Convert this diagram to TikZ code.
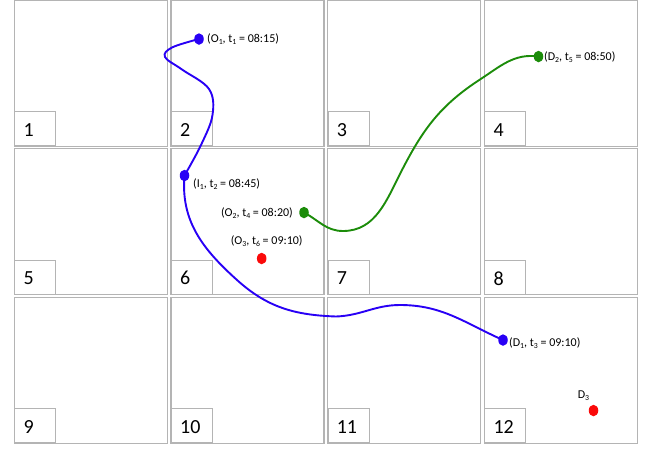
\documentclass[tikz,border=0pt]{standalone}
\usepackage{fontspec}
\setmainfont{Carlito}
\usetikzlibrary{backgrounds,shapes.geometric}
\definecolor{trblue}{RGB}{40,0,245}
\definecolor{trgreen}{RGB}{28,140,10}
\definecolor{trred}{RGB}{250,10,10}
\definecolor{gridgray}{RGB}{180,180,180}
\newcommand{\ssub}[1]{\raisebox{-0.35ex}{\fontsize{7.8}{8}\selectfont #1}}
\tikzset{
  cellbox/.style={draw=gridgray, line width=1.1pt},
  numbox/.style={draw=gridgray, line width=1.1pt, minimum width=41pt, minimum height=34pt, inner sep=0pt, anchor=south west},
  numtext/.style={font=\fontsize{20}{22}\selectfont, anchor=west, inner sep=0pt},
  tlabel/.style={font=\fontsize{12}{13}\selectfont, inner sep=0pt},
  pdot/.style={ellipse, inner sep=0pt, minimum width=9.5pt, minimum height=11.5pt, fill=#1},
  trail/.style={draw=#1, line width=1.9pt, line cap=round}
}
\begin{document}
\begin{tikzpicture}[x=1pt,y=-1pt]
\useasboundingbox (0,0) rectangle (651,448);
\begin{scope}[on background layer]
\foreach \r in {0,1,2} {
  \foreach \c in {0,1,2,3} {
    \pgfmathsetmacro\xa{14.3+156.67*\c}
    \pgfmathsetmacro\ya{0.3+148.5*\r}
    \pgfmathsetmacro\yb{\ya+146}
    \pgfmathtruncatemacro\n{4*\r+\c+1}
    \draw[cellbox] (\xa,\ya) rectangle ++(153,146);
    \node[numbox] (lb\n) at (\xa,\yb) {};
    \node[numtext] (n\n) at ([xshift=9pt,yshift=-1pt]lb\n.west) {\n};
  }
}
\end{scope}

% points
\node[pdot=trblue] (O1) at (199,39) {};
\node[pdot=trblue] (I1) at (184.5,175.5) {};
\node[pdot=trblue] (D1) at (503,340) {};
\node[pdot=trgreen] (O2) at (304,212.5) {};
\node[pdot=trgreen] (D2) at (538.5,56.5) {};
\node[pdot=trred] (O3) at (261.7,258.5) {};
\node[pdot=trred] (D3) at (593.5,410.5) {};

% labels
\node[tlabel, anchor=west] (lO1) at (207,39.5) {(O\ssub{1}, t\ssub{1} = 08:15)};
\node[tlabel, anchor=west] (lI1) at (193,184) {(I\ssub{1}, t\ssub{2} = 08:45)};
\node[tlabel, anchor=east] (lO2) at (293,213) {(O\ssub{2}, t\ssub{4} = 08:20)};
\node[tlabel] (lO3) at (266.7,241) {(O\ssub{3}, t\ssub{6} = 09:10)};
\node[tlabel, anchor=west] (lD1) at (509,343) {(D\ssub{1}, t\ssub{3} = 09:10)};
\node[tlabel, anchor=west] (lD2) at (544,57) {(D\ssub{2}, t\ssub{5} = 08:50)};
\node[tlabel] (lD3) at (583.5,396) {D\ssub{3}};

\coordinate (g1) at (343,231);
\coordinate (g2) at (401,172);
\coordinate (g3) at (480,79.5);
\coordinate (b1) at (237,280);
\coordinate (b2) at (336,316.5);
\coordinate (b3) at (400,305);

\begin{scope}[on background layer]
\draw[trail=trblue] plot[smooth, tension=0.6] coordinates {
  (O1.center) (172,47.5) (165,57) (182,69.5) (209,89) (212.5,115) (201,145) (I1.center)};
\draw[trail=trblue] (I1.center) to[out=-95,in=138] (b1) to[out=-42,in=178] (b2)
  to[out=2,in=180] (b3) to[out=0,in=156] (D1.center);
\draw[trail=trgreen] (O2.center) to[out=-28,in=180] (g1)
  to[out=0,in=243] (g2) to[out=63,in=213] (g3) to[out=33,in=172] (D2.center);
\end{scope}
\end{tikzpicture}
\end{document}
